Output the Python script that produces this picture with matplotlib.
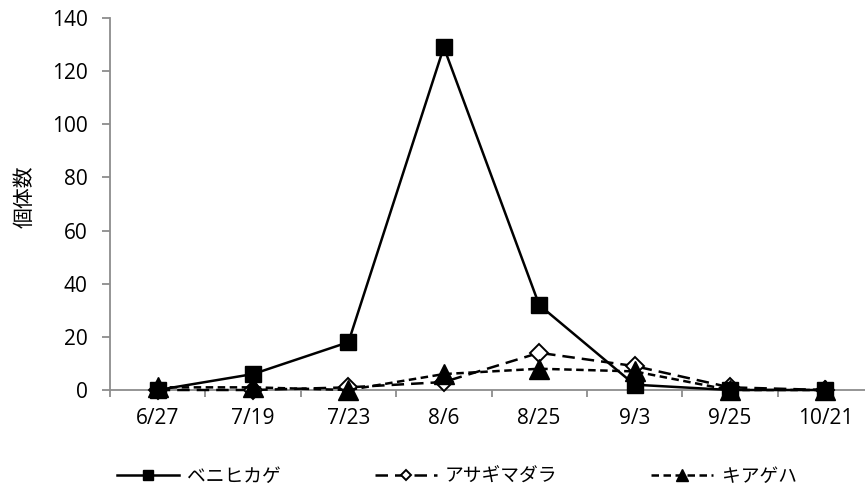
import numpy as np
import matplotlib
matplotlib.use("Agg")
import matplotlib.pyplot as plt

plt.rcParams['font.family'] = ['Noto Sans CJK JP', 'DejaVu Sans']

# data
dates = ['6/27', '7/19', '7/23', '8/6', '8/25', '9/3', '9/25', '10/21']
benihikage = [0, 6, 18, 129, 32, 2, 0, 0]
asagimadara = [0, 0, 1, 3, 14, 9, 1, 0]
kiageha = [1, 1, 0, 6, 8, 7, 0, 0]
series_names = ['ベニヒカゲ', 'アサギマダラ', 'キアゲハ']
yticks = [0, 20, 40, 60, 80, 100, 120, 140]

fig = plt.figure(figsize=(8.65, 4.86), dpi=100)
ax = fig.add_axes([110 / 865, 1 - 390 / 486, 763 / 865, 372 / 486])

x = np.arange(len(dates))
lw = 1.8
ax.plot(x, benihikage, color='black', lw=lw, marker='s', ms=11,
        label=series_names[0], clip_on=False, zorder=5)
ax.plot(x, asagimadara, color='black', lw=lw, dashes=(5, 2.8), marker='D', ms=9,
        mfc='white', mec='black', mew=1.4, label=series_names[1], clip_on=False, zorder=4)
ax.plot(x, kiageha, color='black', lw=lw, dashes=(3, 1.8), marker='^', ms=14,
        label=series_names[2], clip_on=False, zorder=6)

ax.set_xlim(-0.5, len(dates) - 0.5)
ax.set_ylim(0, 140)
ax.set_yticks(yticks)
ax.set_xticks(x)
ax.set_xticklabels(dates)
ax.set_xticks(np.arange(len(dates) + 1) - 0.5, minor=True)

# axis styling
for side in ['top', 'right']:
    ax.spines[side].set_visible(False)
for side in ['left', 'bottom']:
    ax.spines[side].set_color('#8c8c8c')
    ax.spines[side].set_linewidth(1.3)
ax.tick_params(axis='y', length=6, width=1.3, color='#8c8c8c', pad=10, labelsize=15)
ax.tick_params(axis='x', which='major', length=0, pad=13, labelsize=15)
ax.tick_params(axis='x', which='minor', length=5, width=1.3, color='#8c8c8c')
for lbl in ax.get_xticklabels() + ax.get_yticklabels():
    lbl.set_fontfamily(['Open Sans', 'DejaVu Sans'])

ax.set_ylabel('個体数', fontsize=15)
ax.yaxis.set_label_coords(-0.097, 0.519)

fig.legend(loc='center left', bbox_to_anchor=(117 / 865, 1 - 476 / 486), ncol=3,
           frameon=False, fontsize=13.5, borderpad=0, borderaxespad=0,
           handlelength=3.3, handletextpad=0.45, columnspacing=5.0, markerscale=0.6)

fig.savefig('out.png', dpi=100)
